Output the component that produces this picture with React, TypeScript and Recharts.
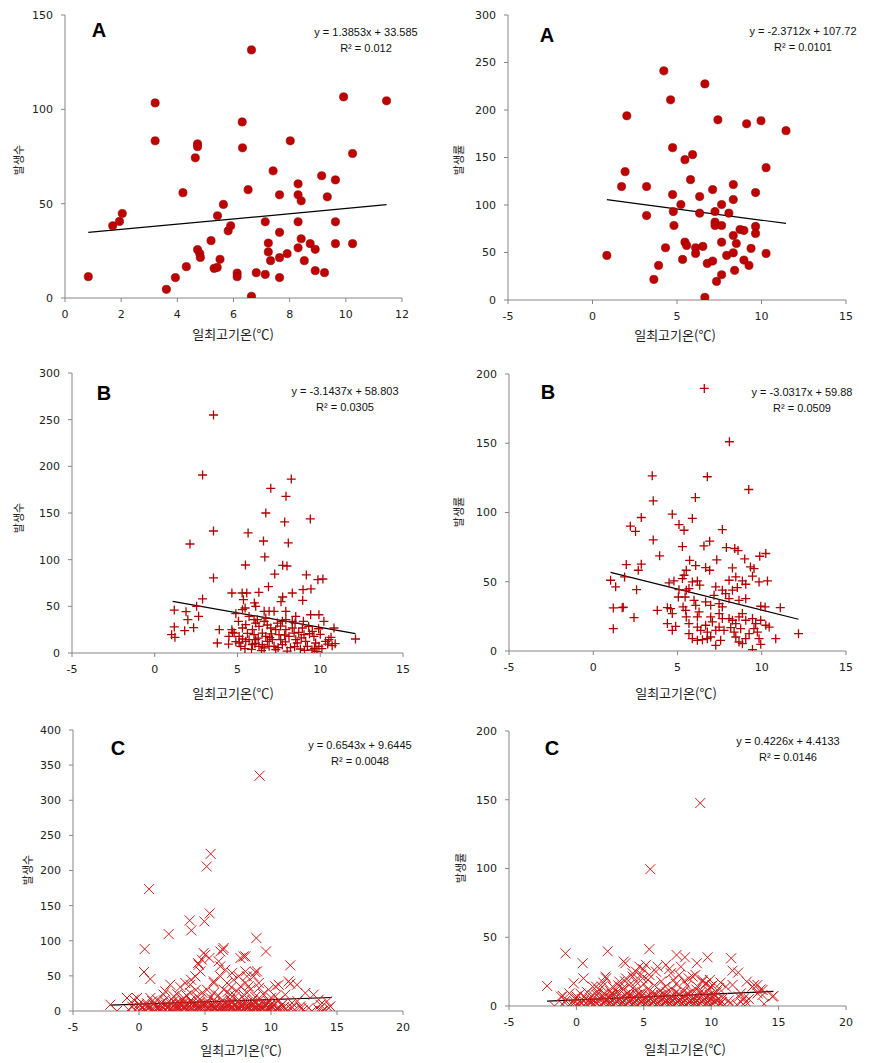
import React from "react";
import { ScatterChart, Scatter, XAxis, YAxis, ReferenceLine } from "recharts";

// A: 발생수 / 발생률 (circles)
const a1: [number, number][] = [
  [0.83, 11.3], [1.7, 38.3], [1.94, 40.6], [2.04, 44.8], [3.21, 103.4], [3.21, 83.3], [3.61, 4.6], [3.93, 10.8],
  [4.2, 55.8], [4.32, 16.6], [4.64, 74.3], [4.72, 81.7], [4.72, 80.2], [4.72, 25.6], [4.8, 23.5], [4.82, 21.5],
  [5.2, 30.4], [5.31, 15.7], [5.42, 16.2], [5.43, 43.6], [5.52, 20.5], [5.64, 49.6], [5.81, 35.6], [5.9, 38.3],
  [6.13, 13.2], [6.13, 11.3], [6.31, 93.3], [6.32, 79.6], [6.52, 57.4], [6.64, 131.5], [6.64, 0.9], [6.81, 13.4],
  [7.13, 40.4], [7.13, 12.5], [7.24, 29.1], [7.24, 24.4], [7.32, 19.8], [7.41, 67.4], [7.64, 54.7], [7.64, 34.8],
  [7.64, 21.4], [7.64, 10.8], [7.91, 23.5], [8.02, 83.3], [8.3, 60.5], [8.3, 54.7], [8.3, 40.4], [8.3, 26.6],
  [8.41, 51.5], [8.41, 31.4], [8.52, 19.8], [8.73, 28.8], [8.91, 25.8], [8.91, 14.5], [9.14, 64.8], [9.24, 13.4],
  [9.34, 53.6], [9.63, 62.6], [9.63, 40.4], [9.63, 28.8], [9.92, 106.6], [10.24, 76.6], [10.24, 28.8], [11.45, 104.5],
];
const a2: [number, number][] = [
  [0.85, 46.9], [1.72, 119.4], [1.93, 135.1], [2.03, 193.9], [3.2, 119.4], [3.2, 88.9], [3.63, 21.7], [3.91, 36.4],
  [4.22, 241.2], [4.32, 55], [4.62, 210.7], [4.74, 160.3], [4.74, 111], [4.78, 93.1], [4.82, 78.4], [5.23, 100.5],
  [5.33, 42.7], [5.47, 147.7], [5.47, 60.9], [5.57, 57.4], [5.8, 126.7], [5.92, 153], [6.1, 55], [6.1, 49],
  [6.34, 108.9], [6.34, 91.4], [6.53, 56.4], [6.65, 227.5], [6.65, 2.8], [6.79, 38.5], [7.11, 41], [7.11, 116.2],
  [7.25, 93.1], [7.25, 81.9], [7.25, 78.4], [7.34, 19.6], [7.42, 189.7], [7.64, 100.5], [7.64, 78.4], [7.64, 60.9],
  [7.64, 26.6], [7.94, 46.9], [8.07, 91.4], [8.33, 121.5], [8.33, 105.7], [8.33, 67.9], [8.33, 49.7], [8.41, 31.2],
  [8.51, 59.5], [8.73, 74.2], [8.96, 73.2], [8.96, 42], [9.12, 185.5], [9.26, 36.4], [9.38, 54.3], [9.65, 113.1],
  [9.65, 77.4], [9.65, 70], [9.97, 188.7], [10.27, 139.3], [10.27, 49], [11.45, 178.2],
];

// B: plus markers
const b1: [number, number][] = [
  [3.55, 255], [2.89, 190.7], [3.55, 130.7], [2.13, 116.8], [3.55, 80.4], [2.89, 57.9], [8.25, 186.4], [7.01, 176.4],
  [7.93, 167.9], [6.71, 150], [7.85, 140.4], [9.4, 143.6], [5.64, 128.6], [6.57, 120], [8.07, 117.9], [6.65, 102.9],
  [5.48, 94.3], [7.73, 93.9], [7.99, 93.2], [7.25, 84.6], [9.16, 83.6], [6.87, 71.1], [9.86, 78.6], [10.16, 79.3],
  [9.44, 68.6], [8.96, 67.9], [8.31, 64.3], [4.66, 64.3], [5.28, 64.3], [5.56, 64.3], [6.29, 65], [7.73, 60],
  [7.63, 55], [8.94, 56.4], [5.36, 57.1], [6.02, 53.6], [6.1, 50],
  [1.18, 46], [1.89, 44.3], [2.53, 50], [2.65, 39.3], [2.0, 35.7], [1.18, 27.9], [1.81, 23.9], [2.35, 27.1],
  [1.02, 19.6], [1.22, 16.8], [3.9, 25], [3.78, 10.7], [4.48, 17.9], [4.46, 9.6], [4.7, 22.1],
  [5.3, 46.4], [5.46, 48.2], [4.9, 42.1], [5.06, 33.9], [6.61, 44.6], [6.91, 44.6], [7.21, 44.6], [6.71, 37.5],
  [7.92, 44.6], [8.52, 39.2], [8.48, 32.1], [7.92, 35.7], [8.31, 33.9], [8.98, 33.9], [9.42, 41], [9.92, 41],
  [10.22, 33.9], [10.83, 26.8], [12.13, 15], [5.7, 39.2], [6.0, 35.7], [6.2, 35.7], [5.3, 26.8], [5.5, 30.3],
  [4.66, 25], [4.8, 21.4], [5.1, 17.8], [5.3, 15], [5.5, 12.5], [5.9, 25], [6.0, 19.6], [6.1, 14.3],
  [6.3, 28.6], [6.5, 21.4], [6.71, 17.8], [6.81, 12.5], [6.91, 7.1], [7.01, 26.8], [7.31, 25], [7.51, 19.6],
  [7.61, 14.3], [7.71, 8.9], [7.11, 14.3], [7.21, 7.1], [7.31, 3.6], [7.92, 25], [8.11, 17.8], [8.31, 26.8],
  [8.42, 21.4], [8.52, 14.3], [8.61, 10.7], [8.92, 26.8], [9.02, 19.6], [9.12, 12.5], [9.22, 7.1], [9.52, 23.2],
  [9.62, 17.8], [9.72, 10.7], [9.92, 7.1], [10.32, 12.5], [10.52, 14.3], [10.72, 7.9], [5.7, 14.3], [5.9, 8.9],
  [6.3, 7.1], [6.5, 8.9], [6.61, 5.4], [5.1, 10.7], [5.2, 7.1], [6.1, 32.1], [7.41, 32.1], [7.71, 33.9],
  [6.61, 33.9], [8.8, 4.3], [9.5, 3.2], [9.8, 1.5], [8.2, 5.7], [7.9, 12], [8.7, 22], [9.3, 28.6],
  [10.0, 20], [10.1, 4.6], [6.8, 30], [7.6, 28.9], [5.6, 21], [5.85, 3.9], [6.05, 10.2], [6.25, 15.9],
  [6.45, 2.5], [7.05, 20.4], [7.45, 5.8], [8.0, 2.1], [8.45, 6.8], [9.05, 2.8], [9.65, 5], [10.45, 9.6],
  [10.9, 10], [4.9, 12.1], [5.45, 4.6], [6.95, 16.5], [7.85, 19.3], [8.85, 16.1], [9.35, 20.7], [9.9, 26],
  [10.65, 16.8],
];
const b2: [number, number][] = [
  [6.59, 189.6], [8.08, 151.1], [6.77, 125.8], [9.23, 116.6], [3.5, 126.5], [3.56, 108.4], [6.06, 110.8], [4.69, 98.8],
  [5.88, 95.7], [2.85, 96.4], [5.09, 91.3], [5.39, 87.2], [2.2, 90.1], [2.51, 86.3], [7.66, 87.7], [3.56, 80.2],
  [3.94, 68.7], [5.29, 75.4], [6.57, 75.9], [6.91, 79.3], [7.9, 74.7], [8.4, 74], [8.59, 72.5], [8.99, 66.5],
  [9.88, 68.4], [10.24, 70.4], [7.33, 65.8], [5.72, 65.5], [1.96, 62.4], [2.85, 62.7], [2.67, 58.3], [6.08, 61.7],
  [6.67, 60.2], [6.91, 58.3], [8.26, 60], [9.33, 60.7], [9.54, 59.5], [1.03, 51.1], [1.33, 46.3], [1.86, 53.5],
  [2.57, 44.3], [2.42, 24.1], [1.19, 31.1], [1.78, 31.6], [1.19, 16.1], [3.8, 29.4],
  [5.52, 58.3], [5.39, 54.7], [5.29, 52.3], [4.79, 50.6], [4.5, 49.2], [5.88, 49.9], [6.18, 50.6], [6.32, 47.5],
  [5.68, 45.1], [5.52, 43.9], [5.09, 44.3], [5.05, 39], [4.4, 31.3], [4.59, 30.6], [4.69, 27], [5.45, 39],
  [5.33, 31.8], [5.98, 36.6], [6.08, 33], [6.67, 35.4], [6.97, 33], [7.17, 40.2], [7.27, 46.3], [7.66, 43.9],
  [7.86, 41.4], [8.26, 43.9], [8.55, 45.8], [8.06, 51.1], [8.46, 53.5], [8.85, 50.6], [9.05, 48.2], [9.45, 54],
  [9.84, 49.9], [10.34, 50.6], [9.94, 32.3], [10.2, 31.8], [11.1, 31.3], [8.65, 36.6], [9.05, 37.8], [8.06, 37.8],
  [7.47, 34.2], [7.66, 31.8], [6.28, 28.2], [6.18, 24.6], [6.97, 24.6], [7.07, 21], [7.47, 27], [7.66, 23.4],
  [8.06, 23.4], [8.26, 22.2], [8.46, 19.8], [8.65, 24.6], [8.85, 27], [9.05, 22.2], [9.45, 23.4], [9.64, 19.8],
  [9.94, 22.2], [10.24, 18.6], [10.44, 17.3], [10.83, 8.9], [12.18, 12.5], [4.4, 19.8], [4.69, 14.9], [4.89, 17.8],
  [5.49, 29.4], [5.52, 24.6], [5.68, 19.8], [5.68, 12.5], [5.88, 8.9], [6.18, 7.7], [6.48, 8.2], [6.77, 8.9],
  [6.97, 10.1], [7.27, 14.9], [7.47, 17.3], [7.76, 14.9], [7.27, 4.1], [7.56, 7.7], [6.18, 17.3], [6.38, 14.9],
  [6.67, 18.6], [6.77, 13.7], [8.46, 10.1], [8.65, 6.5], [8.85, 5.3], [9.05, 8.9], [9.25, 12.5], [9.54, 16.1],
  [9.74, 13.7], [9.84, 8.9], [9.45, 1], [9.94, 4.8], [8.16, 16.9], [8.36, 13.7], [8.75, 16.1], [1.72, 31.3],
];

// C: cross markers
const c1: [number, number][] = [
  [9.14, 335], [5.43, 223.7], [5.13, 205.7], [0.76, 173.5], [5.35, 139], [4.95, 127.5], [3.84, 128.9], [3.96, 114.7],
  [2.25, 109.5], [8.89, 103.8], [9.62, 84.8], [0.43, 88.2], [4.9, 82.5], [5.33, 75.4], [6.36, 87.2], [7.68, 75.4],
  [7.93, 77.7], [11.46, 65], [4.47, 68.2], [4.65, 56.4], [0.38, 55.5], [0.86, 45.5], [8.81, 55.5], [6.16, 63.5],
  [6.54, 58.8], [7.05, 54], [7.55, 49.3], [8.06, 56.4], [8.18, 49.3], [3.51, 39.8], [3.89, 37.4], [3.13, 34.1],
  [2.37, 37.4], [1.99, 28], [11.46, 38.9], [11.97, 37.4], [10.33, 35], [9.82, 30.3], [12.6, 25.6], [5.66, 39.8],
  [-0.91, 18.5], [-0.15, 18.5], [-2.17, 9], [-1.67, 0], [13.61, 16.1], [13.74, 9], [14.24, 13.7], [14.49, 6.6],
  [13.86, 0],
  [3.94, 44.5], [4.27, 49.3], [4.52, 65.9], [4.77, 73], [5.03, 80.1], [6.16, 84.8], [6.41, 89.6], [6.04, 70.6],
  [5.66, 42.2], [6.16, 49.3], [6.67, 39.8], [7.17, 44.5], [7.68, 35.1], [8.06, 39.8], [5.15, 30.3], [5.66, 25.6],
  [6.41, 30.3], [6.92, 23.2], [7.42, 28], [7.93, 23.2], [8.43, 30.3], [3.89, 25.6], [4.39, 20.9], [3.38, 18.5],
  [2.63, 20.9], [1.87, 23.2], [1.36, 16.1], [0.86, 18.5], [-0.4, 16.1],
  [8.06, 77.7], [8.94, 56.4], [8.69, 49.3], [9.07, 39.8], [8.31, 35.1], [11.34, 42.2], [13.23, 23.2], [10.33, 20.9],
  [10.58, 37.4], [11.08, 23.2], [10.08, 11.4], [10.83, 9], [11.59, 11.4], [12.22, 6.6], [12.85, 4.3], [13.61, 1.9],
  [13.99, 0.9], [14.37, 4.3],
  [2.9, 24], [3.6, 22], [4.8, 26], [5.4, 19], [6.0, 22], [6.7, 27], [7.3, 21], [8.2, 26], [8.8, 20], [9.4, 24],
  [10.0, 19], [4.3, 30], [9.1, 33], [3.0, 13], [7.0, 34],
  [-0.8, 2], [-0.3, 1], [0.1, 3], [0.5, 1], [0.9, 2], [1.2, 0], [1.6, 3], [2.0, 1], [2.3, 2], [2.7, 0],
  [3.0, 3], [3.3, 1], [3.6, 2], [3.9, 0], [4.2, 1], [4.5, 3], [4.8, 0], [5.1, 2], [5.4, 1], [5.7, 3],
  [6.0, 0], [6.3, 2], [6.6, 1], [6.9, 3], [7.2, 0], [7.5, 2], [7.8, 1], [8.1, 3], [8.4, 0], [8.7, 2],
  [9.0, 1], [9.3, 3], [9.6, 0], [9.9, 2], [10.3, 1], [10.7, 3], [11.2, 0], [11.8, 2], [12.4, 1], [13.1, 0],
  [-0.15, 4], [0.35, 2], [0.75, 4], [1.05, 1], [1.45, 3], [1.75, 2], [2.15, 4], [2.45, 1], [2.85, 3], [3.15, 2],
  [3.45, 4], [3.75, 1], [4.05, 3], [4.35, 2], [4.65, 4], [4.95, 1], [5.25, 3], [5.55, 2], [5.85, 4], [6.15, 1],
  [6.45, 3], [6.75, 2], [7.05, 4], [7.35, 1], [7.65, 3], [7.95, 2], [8.25, 4], [8.55, 1], [8.85, 3], [9.15, 2],
  [9.45, 4], [9.75, 1], [10.05, 3], [10.5, 2], [11.0, 1], [11.5, 3],
  [-0.5, 6], [0.3, 5], [0.7, 7], [1.4, 5], [1.8, 6], [2.2, 7], [2.5, 5], [2.9, 6], [3.2, 7], [3.5, 5],
  [3.8, 6], [4.1, 7], [4.4, 5], [4.7, 6], [5.0, 7], [5.3, 5], [5.6, 6], [5.9, 7], [6.2, 5], [6.5, 6],
  [6.8, 7], [7.1, 5], [7.4, 6], [7.7, 7], [8.0, 5], [8.3, 6], [8.6, 7], [8.9, 5], [9.2, 6], [9.5, 7],
  [9.8, 5], [10.1, 6], [10.5, 4], [11.0, 6], [11.6, 5], [12.3, 4],
  [0.45, 8], [1.25, 7], [2.05, 9], [2.65, 8], [3.05, 10], [3.55, 8], [4.15, 9], [4.55, 8], [5.05, 10], [5.45, 8],
  [5.95, 9], [6.35, 8], [6.85, 10], [7.25, 8], [7.75, 9], [8.15, 8], [8.65, 10], [9.05, 8], [9.55, 9], [10.0, 8],
  [0.0, 10], [0.6, 11], [1.1, 9], [1.7, 12], [2.4, 10], [2.8, 11], [3.1, 9], [3.4, 12], [3.7, 10], [4.0, 11],
  [4.3, 9], [4.6, 12], [4.9, 10], [5.2, 11], [5.5, 9], [5.8, 12], [6.1, 10], [6.4, 11], [6.7, 9], [7.0, 12],
  [7.3, 10], [7.6, 11], [7.9, 9], [8.2, 12], [8.5, 10], [8.8, 11], [9.1, 9], [9.4, 12], [9.7, 10], [10.2, 9],
  [10.8, 8],
  [1.0, 14], [1.9, 15], [2.6, 14], [3.3, 16], [3.9, 15], [4.6, 17], [5.2, 14], [5.7, 16], [6.3, 15], [6.9, 17],
  [7.5, 14], [8.0, 16], [8.6, 15], [9.2, 17], [9.8, 14], [10.6, 15], [12.0, 14],
];
const c2: [number, number][] = [
  [9.19, 147.6], [5.48, 99.5], [5.41, 41.3], [2.32, 39.8], [-0.81, 38.3], [0.47, 31.1], [3.51, 32.3], [3.63, 31.1],
  [7.43, 37.1], [8.05, 35.4], [8.94, 31.1], [9.73, 35.4], [11.48, 34.7], [11.58, 25.7], [12.0, 24.3], [12.64, 17.7],
  [4.67, 28.6], [4.96, 26.7], [4.42, 25], [6.02, 28.6], [6.64, 29.9], [7.75, 28.6], [2.15, 21.4], [0.52, 20.1],
  [-0.2, 16.5], [-2.17, 14.6], [-1.63, 0], [-1.01, 7.3], [13.06, 14.1], [13.43, 15.3], [13.68, 12.1], [14.62, 7.3],
  [13.8, 8], [13.93, 1.5], [11.09, 14.1], [11.58, 15.3], [12.44, 5.6], [12.2, 9.2], [3.19, 17.7], [2.69, 14.1],
  [1.46, 14.1], [4.17, 21.4], [7.63, 22.6], [8.62, 21.4], [9.36, 18.9], [9.6, 16.5],
  [-1.14, 6.8], [-0.52, 9.2], [-0.02, 5.6], [0.22, 3.2], [1.21, 14.1], [1.7, 11.7], [2.2, 20.1], [2.07, 9.2],
  [2.44, 6.8], [3.68, 20.1], [4.17, 23.8], [5.16, 29.9], [2.94, 11.7], [3.43, 12.9], [3.93, 15.3], [4.42, 17.7],
  [4.91, 20.1], [5.41, 22.6], [5.9, 25], [13.19, 15.3], [13.81, 11.7], [14.54, 6.8], [13.44, 9.2], [12.07, 6.8],
  [12.57, 3.2], [7.01, 23.8], [8.33, 20.1], [8.83, 22.6], [9.33, 17.7], [9.94, 14.1], [10.56, 12.9],
  [2.0, 17], [3.6, 18], [5.3, 19], [6.3, 18], [7.2, 19], [8.0, 18], [9.9, 19], [10.7, 17], [6.9, 27], [4.8, 23],
  [-1.0, 1], [-0.6, 0], [-0.2, 2], [0.2, 1], [0.6, 0], [1.0, 2], [1.3, 1], [1.7, 0], [2.0, 2], [2.3, 1],
  [2.6, 0], [2.9, 2], [3.2, 1], [3.5, 0], [3.8, 2], [4.1, 1], [4.4, 0], [4.7, 2], [5.0, 1], [5.3, 0],
  [5.6, 2], [5.9, 1], [6.2, 0], [6.5, 2], [6.8, 1], [7.1, 0], [7.4, 2], [7.7, 1], [8.0, 0], [8.3, 2],
  [8.6, 1], [8.9, 0], [9.2, 2], [9.5, 1], [9.8, 0], [10.1, 2], [10.5, 1], [10.9, 0], [11.4, 2], [11.9, 1],
  [12.5, 0],
  [-0.4, 2], [0.0, 0], [0.4, 2], [0.8, 1], [1.15, 3], [1.55, 2], [1.85, 1], [2.15, 3], [2.45, 2], [2.75, 1],
  [3.05, 3], [3.35, 2], [3.65, 1], [3.95, 3], [4.25, 2], [4.55, 1], [4.85, 3], [5.15, 2], [5.45, 1], [5.75, 3],
  [6.05, 2], [6.35, 1], [6.65, 3], [6.95, 2], [7.25, 1], [7.55, 3], [7.85, 2], [8.15, 1], [8.45, 3], [8.75, 2],
  [9.05, 1], [9.35, 3], [9.65, 2], [9.95, 1], [10.3, 3], [10.7, 2],
  [-0.8, 4], [-0.1, 3], [0.4, 5], [0.9, 4], [1.4, 3], [1.8, 5], [2.2, 4], [2.5, 3], [2.8, 5], [3.1, 4],
  [3.4, 3], [3.7, 5], [4.0, 4], [4.3, 3], [4.6, 5], [4.9, 4], [5.2, 3], [5.5, 5], [5.8, 4], [6.1, 3],
  [6.4, 5], [6.7, 4], [7.0, 3], [7.3, 5], [7.6, 4], [7.9, 3], [8.2, 5], [8.5, 4], [8.8, 3], [9.1, 5],
  [9.4, 4], [9.7, 3], [10.0, 5], [10.4, 4], [10.8, 3], [11.3, 4], [12.2, 3], [12.8, 5],
  [0.0, 7], [0.7, 6], [1.2, 8], [1.9, 7], [2.4, 6], [2.7, 8], [3.0, 7], [3.3, 6], [3.6, 8], [3.9, 7],
  [4.2, 6], [4.5, 8], [4.8, 7], [5.1, 6], [5.4, 8], [5.7, 7], [6.0, 6], [6.3, 8], [6.6, 7], [6.9, 6],
  [7.2, 8], [7.5, 7], [7.8, 6], [8.1, 8], [8.4, 7], [8.7, 6], [9.0, 8], [9.3, 7], [9.6, 6], [9.9, 8],
  [10.3, 7], [10.9, 6],
  [0.3, 9], [1.0, 6], [1.5, 8], [2.1, 6], [2.6, 9], [3.2, 5], [3.8, 9], [4.3, 6], [4.7, 9], [5.2, 5],
  [5.6, 10], [6.1, 7], [6.5, 9], [7.0, 5], [7.4, 10], [7.9, 6], [8.3, 9], [8.8, 5], [9.2, 10], [9.7, 7],
  [10.2, 9], [10.6, 5],
  [0.8, 10], [1.6, 9], [2.5, 11], [3.0, 10], [3.5, 12], [4.0, 9], [4.4, 11], [4.9, 10], [5.3, 12], [5.8, 9],
  [6.2, 11], [6.7, 10], [7.1, 12], [7.6, 9], [8.0, 11], [8.5, 10], [8.9, 12], [9.4, 9], [9.8, 11], [10.4, 10],
  [1.9, 14], [3.1, 15], [4.3, 14], [5.0, 16], [5.8, 15], [6.6, 14], [7.4, 16], [8.2, 15], [9.0, 14], [9.6, 16],
  [10.1, 15],
];

const xTicksA1 = [0, 2, 4, 6, 8, 10, 12];
const xTicks15 = [-5, 0, 5, 10, 15];
const xTicks20 = [-5, 0, 5, 10, 15, 20];
const yTicks150 = [0, 50, 100, 150];
const yTicks300 = [0, 50, 100, 150, 200, 250, 300];
const yTicks200 = [0, 50, 100, 150, 200];
const yTicks400 = [0, 50, 100, 150, 200, 250, 300, 350, 400];

const circleShape = (p: any) => (
  <circle cx={p.cx} cy={p.cy} r={4.1} fill="#c00000" stroke="#8a0000" strokeWidth={0.6} />
);
const plusShape = (p: any) => (
  <path d={`M${p.cx - 4.5},${p.cy}h9M${p.cx},${p.cy - 4.5}v9`} stroke="#b00000" strokeWidth={1.3} fill="none" />
);
const crossShape = (p: any) => (
  <path
    d={`M${p.cx - 5},${p.cy - 5}l10,10M${p.cx - 5},${p.cy + 5}l10,-10`}
    stroke="#d41a1a"
    strokeWidth={1}
    fill="none"
  />
);

const panels = [
  {
    ox: 0, oy: 0, w: 440, h: 330, pl: 65, pt: 15, pr: 402, pb: 298,
    xd: [0, 12], xt: xTicksA1, yd: [0, 150], yt: yTicks150, data: a1, shape: circleShape,
    slope: 1.3853, icpt: 33.585, tx: [0.83, 11.45], eq: "y = 1.3853x + 33.585", r2: "R² = 0.012",
    eqx: 366, eqy: 32, letter: "A", lx: 99, ly: 30, ylab: "발생수", ylx: 18, yly: 160, xlx: 233, xly: 333,
  },
  {
    ox: 440, oy: 0, w: 438, h: 330, pl: 68, pt: 15, pr: 406, pb: 300,
    xd: [-5, 15], xt: xTicks15, yd: [0, 300], yt: yTicks300, data: a2, shape: circleShape,
    slope: -2.3712, icpt: 107.72, tx: [0.85, 11.45], eq: "y = -2.3712x + 107.72", r2: "R² = 0.0101",
    eqx: 803, eqy: 31, letter: "A", lx: 547, ly: 35, ylab: "발생률", ylx: 458, yly: 160, xlx: 675, xly: 334,
  },
  {
    ox: 0, oy: 340, w: 440, h: 340, pl: 72, pt: 33, pr: 403, pb: 313,
    xd: [-5, 15], xt: xTicks15, yd: [0, 300], yt: yTicks300, data: b1, shape: plusShape,
    slope: -3.1437, icpt: 58.803, tx: [1.08, 12.13], eq: "y = -3.1437x + 58.803", r2: "R² = 0.0305",
    eqx: 345, eqy: 391, letter: "B", lx: 104, ly: 393, ylab: "발생수", ylx: 18, yly: 518, xlx: 233, xly: 692,
  },
  {
    ox: 440, oy: 340, w: 438, h: 340, pl: 69, pt: 34, pr: 406, pb: 311,
    xd: [-5, 15], xt: xTicks15, yd: [0, 200], yt: yTicks200, data: b2, shape: plusShape,
    slope: -3.0317, icpt: 59.88, tx: [1.03, 12.18], eq: "y = -3.0317x + 59.88", r2: "R² = 0.0509",
    eqx: 802, eqy: 392, letter: "B", lx: 548, ly: 392, ylab: "발생률", ylx: 458, yly: 512, xlx: 676, xly: 692,
  },
  {
    ox: 0, oy: 700, w: 440, h: 363, pl: 73, pt: 30, pr: 403, pb: 311,
    xd: [-5, 20], xt: xTicks20, yd: [0, 400], yt: yTicks400, data: c1, shape: crossShape,
    slope: 0.6543, icpt: 9.6445, tx: [-2.17, 14.6], eq: "y = 0.6543x + 9.6445", r2: "R² = 0.0048",
    eqx: 360, eqy: 745, letter: "C", lx: 118, ly: 748, ylab: "발생수", ylx: 27, yly: 870, xlx: 241, xly: 1049,
  },
  {
    ox: 440, oy: 700, w: 438, h: 363, pl: 69, pt: 31, pr: 406, pb: 306,
    xd: [-5, 20], xt: xTicks20, yd: [0, 200], yt: yTicks200, data: c2, shape: crossShape,
    slope: 0.4226, icpt: 4.4133, tx: [-2.17, 14.62], eq: "y = 0.4226x + 4.4133", r2: "R² = 0.0146",
    eqx: 788, eqy: 741, letter: "C", lx: 552, ly: 748, ylab: "발생률", ylx: 460, yly: 868, xlx: 685, xly: 1048,
  },
];

const tickStyle = { fontFamily: "DejaVu Sans", fontSize: 11, fill: "#222" };
const center = "translate(-50%,-50%)";

function Label({ x, y, children, style }: any) {
  return (
    <div style={{ position: "absolute", left: x, top: y, transform: center, whiteSpace: "nowrap", ...style }}>
      {children}
    </div>
  );
}

export default function App() {
  return (
    <div style={{ position: "absolute", left: 0, top: 0, width: 878, height: 1063, background: "#fff" }}>
      {panels.map((p, i) => (
        <React.Fragment key={i}>
          <div style={{ position: "absolute", left: p.ox, top: p.oy }}>
            <ScatterChart
              width={p.w}
              height={p.h}
              margin={{ top: p.pt, right: p.w - p.pr, bottom: 0, left: 0 }}
            >
              <XAxis
                type="number"
                dataKey="x"
                domain={p.xd}
                ticks={p.xt}
                allowDataOverflow
                height={p.h - p.pb}
                stroke="#868686"
                tickSize={4}
                tickMargin={8}
                tick={tickStyle}
                interval={0}
              />
              <YAxis
                type="number"
                dataKey="y"
                domain={p.yd}
                ticks={p.yt}
                allowDataOverflow
                width={p.pl}
                stroke="#868686"
                tickSize={4}
                tickMargin={8}
                tick={tickStyle}
                interval={0}
              />
              <Scatter
                data={p.data.map(([x, y]) => ({ x, y }))}
                shape={p.shape}
                isAnimationActive={false}
              />
              <ReferenceLine
                segment={[
                  { x: p.tx[0], y: p.slope * p.tx[0] + p.icpt },
                  { x: p.tx[1], y: p.slope * p.tx[1] + p.icpt },
                ]}
                stroke="#000"
                strokeWidth={1.2}
                ifOverflow="visible"
              />
            </ScatterChart>
          </div>
          <Label x={p.eqx} y={p.eqy} style={{ fontFamily: "Liberation Sans", fontSize: 11, color: "#111" }}>
            {p.eq}
          </Label>
          <Label x={p.eqx} y={p.eqy + 16} style={{ fontFamily: "Liberation Sans", fontSize: 11, color: "#111" }}>
            {p.r2}
          </Label>
          <Label x={p.lx} y={p.ly} style={{ fontFamily: "Liberation Sans", fontWeight: "bold", fontSize: 20, color: "#000" }}>
            {p.letter}
          </Label>
          <Label
            x={p.ylx}
            y={p.yly}
            style={{
              fontFamily: "Noto Sans CJK KR",
              fontSize: 11,
              color: "#222",
              transform: center + " rotate(-90deg)",
            }}
          >
            {p.ylab}
          </Label>
          <Label x={p.xlx} y={p.xly} style={{ fontFamily: "Noto Sans CJK KR", fontSize: 13, color: "#222" }}>
            일최고기온(℃)
          </Label>
        </React.Fragment>
      ))}
    </div>
  );
}
